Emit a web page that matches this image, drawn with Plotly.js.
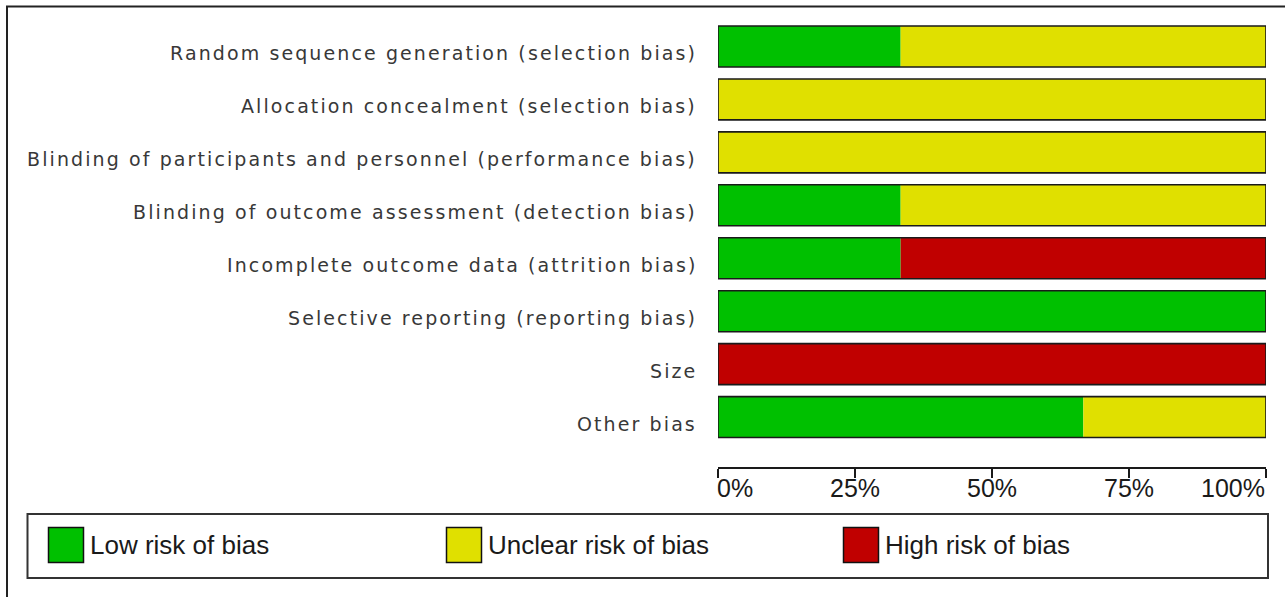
<!DOCTYPE html>
<html>
<head>
<meta charset="utf-8">
<script src="https://cdn.plot.ly/plotly-3.0.1.min.js"></script>
<style>
  html, body { margin: 0; padding: 0; background: #ffffff; }
  #chart { width: 1285px; height: 597px; }
</style>
</head>
<body>
<div id="chart"></div>
<script>
// ---- data ----
const categories = [
  "Random sequence generation (selection bias)",
  "Allocation concealment (selection bias)",
  "Blinding of participants and personnel (performance bias)",
  "Blinding of outcome assessment (detection bias)",
  "Incomplete outcome data (attrition bias)",
  "Selective reporting (reporting bias)",
  "Size",
  "Other bias"
];
const lowRisk     = [33.33, 0,   0,   33.33, 33.33, 100, 0,   66.67];
const unclearRisk = [66.67, 100, 100, 66.67, 0,     0,   0,   33.33];
const highRisk    = [0,     0,   0,   0,     66.67, 0,   100, 0];
const tickVals = [0, 25, 50, 75, 100];
const tickLabels = ["0%", "25%", "50%", "75%", "100%"];
const legendNames = ["Low risk of bias", "Unclear risk of bias", "High risk of bias"];

// ---- styles ----
const colors = ["#00C000", "#E0E000", "#C00000"];
const outline = "#1a1a1a";
const W = 1285, H = 597;
const M = {l: 718, r: 19, t: 20, b: 129.5};
const plotW = W - M.l - M.r, plotH = H - M.t - M.b;
const px = x => (x - M.l) / plotW;          // pixel -> paper x
const py = y => (H - M.b - y) / plotH;      // pixel -> paper y
const catFont = {family: "DejaVu Sans, Verdana, sans-serif", size: 19, color: "#383838"};
const bigFont = {family: "Liberation Sans, Arial, sans-serif", size: 25, color: "#1a1a1a"};

const baseUnclear = lowRisk.map(v => v);
const baseHigh = lowRisk.map((v, i) => v + unclearRisk[i]);
const totals = lowRisk.map((v, i) => v + unclearRisk[i] + highRisk[i]);

function seg(name, x, base, color) {
  return {
    type: "bar", orientation: "h", name: name,
    y: categories, x: x, base: base,
    marker: {color: color, line: {width: 0}},
    hoverinfo: "skip", showlegend: false
  };
}
const traces = [
  seg(legendNames[0], lowRisk, categories.map(() => 0), colors[0]),
  seg(legendNames[1], unclearRisk, baseUnclear, colors[1]),
  seg(legendNames[2], highRisk, baseHigh, colors[2]),
  {
    type: "bar", orientation: "h", name: "outline",
    y: categories, x: totals, base: categories.map(() => 0),
    marker: {color: "rgba(0,0,0,0)", line: {color: outline, width: 1.6}},
    hoverinfo: "skip", showlegend: false
  }
];

const shapes = [
  // outer frame
  {type: "rect", xref: "paper", yref: "paper",
   x0: px(7), x1: px(1300), y0: py(630), y1: py(6.5),
   line: {color: "#222", width: 2}, fillcolor: "rgba(0,0,0,0)", layer: "above"},
  // legend box
  {type: "rect", xref: "paper", yref: "paper",
   x0: px(27.5), x1: px(1268), y0: py(578.5), y1: py(514.5),
   line: {color: "#333", width: 2}, fillcolor: "rgba(0,0,0,0)"}
];
const annotations = [];
// category labels (y axis)
categories.forEach(c => {
  annotations.push({xref: "paper", yref: "y", x: px(699), y: c,
    xanchor: "right", yanchor: "middle", yshift: -7, showarrow: false,
    text: '<span style="letter-spacing:2.1px">' + c + '</span>', font: catFont});
});
// legend
const swatchX = [48.5, 446.5, 843.5];
legendNames.forEach((n, i) => {
  shapes.push({type: "rect", xref: "paper", yref: "paper",
    x0: px(swatchX[i]), x1: px(swatchX[i] + 35), y0: py(563), y1: py(528),
    line: {color: "#111", width: 1.5}, fillcolor: colors[i]});
  annotations.push({xref: "paper", yref: "paper", x: px(swatchX[i] + 39), y: py(546),
    xanchor: "left", yanchor: "middle", showarrow: false, text: n,
    font: Object.assign({}, bigFont, {size: 26})});
});
// x tick labels
tickVals.forEach((v, i) => {
  const anchor = i === 0 ? "left" : (i === tickVals.length - 1 ? "right" : "center");
  annotations.push({xref: "x", yref: "paper", x: v, y: py(489),
    xanchor: anchor, yanchor: "middle", showarrow: false, text: tickLabels[i],
    xshift: i === 0 ? -3 : (i === tickVals.length - 1 ? 1 : 0),
    font: bigFont});
});

const layout = {
  width: W, height: H,
  margin: M,
  paper_bgcolor: "#ffffff", plot_bgcolor: "#ffffff",
  barmode: "overlay", bargap: 0.226,
  showlegend: false,
  xaxis: {
    range: [0, 100], fixedrange: true,
    showgrid: false, zeroline: false,
    showline: true, linecolor: outline, linewidth: 1.5,
    ticks: "outside", ticklen: 9, tickwidth: 1.5, tickcolor: outline,
    tickmode: "array", tickvals: tickVals, showticklabels: false
  },
  xaxis2: {
    overlaying: "x", anchor: "y", side: "bottom",
    range: [0, 100], fixedrange: true,
    showgrid: false, zeroline: false, showline: false,
    ticks: "inside", ticklen: 10, tickwidth: 1.5, tickcolor: outline,
    tickmode: "array", tickvals: tickVals, showticklabels: false
  },
  yaxis: {
    type: "category", categoryarray: categories, categoryorder: "array",
    autorange: false, range: [7.943, -0.5], fixedrange: true,
    showgrid: false, zeroline: false, showline: false,
    ticks: "", showticklabels: false
  },
  shapes: shapes,
  annotations: annotations
};

Plotly.newPlot("chart", traces, layout, {displayModeBar: false, staticPlot: true});
</script>
</body>
</html>
